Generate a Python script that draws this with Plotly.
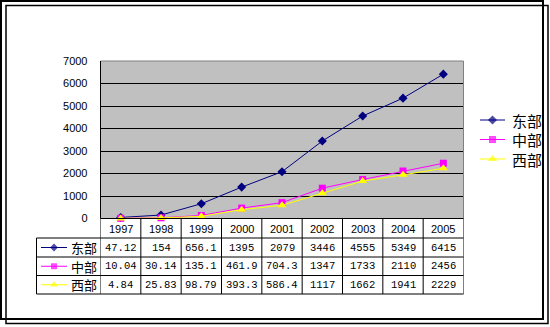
import plotly.graph_objects as go

# ---- data ----
years = ["1997", "1998", "1999", "2000", "2001", "2002", "2003", "2004", "2005"]
east = [47.12, 154, 656.1, 1395, 2079, 3446, 4555, 5349, 6415]
central = [10.04, 30.14, 135.1, 461.9, 704.3, 1347, 1733, 2110, 2456]
west = [4.84, 25.83, 98.79, 393.3, 586.4, 1117, 1662, 1941, 2229]
series_names = ["东部", "中部", "西部"]
y_ticks = [0, 1000, 2000, 3000, 4000, 5000, 6000, 7000]

series_values = [east, central, west]
colors = ["#000080", "#FF00FF", "#FFFF00"]
symbols = ["diamond", "square", "triangle-up"]
marker_sizes = [7, 7, 8]

# ---- layout geometry (pixels) ----
W, H = 550, 327
PL, PR, PT, PB = 100.5, 463.5, 61, 218.5          # plot area
ROWS = [218.5, 238, 257, 275.5, 294]              # data table row edges
TL = 36.5                                          # table left edge


def px(x):
    return x / W


def py(y):
    return 1 - y / H


SANS = "Liberation Sans, Arial, sans-serif"
MONO = "Liberation Mono, DejaVu Sans Mono, monospace"
CJK = "Noto Sans CJK SC, sans-serif"

fig = go.Figure()
xs = list(range(len(years)))

# ---- series ----
for name, vals, c, s, ms in zip(series_names, series_values, colors, symbols, marker_sizes):
    fig.add_trace(go.Scatter(
        x=xs, y=vals, name=name, mode="lines+markers",
        line=dict(color=c, width=1),
        marker=dict(symbol=s, size=ms, color=c, line=dict(width=0)),
        showlegend=False, xaxis="x", yaxis="y", cliponaxis=False,
    ))

# ---- legend keys and table keys on a pixel-space overlay ----
legend_y = [120, 139.5, 159]
table_y = [(ROWS[i + 1] + ROWS[i + 2]) / 2 for i in range(3)]
for i, (c, s, ms) in enumerate(zip(colors, symbols, marker_sizes)):
    for (x0, x1, yc, big) in [(480, 505, legend_y[i], True), (41, 67, table_y[i], False)]:
        fig.add_trace(go.Scatter(
            x=[x0, (x0 + x1) / 2, x1], y=[yc, yc, yc], mode="lines+markers",
            line=dict(color=c, width=1),
            marker=dict(symbol=s, size=[0, ms if big else ms - 1, 0], color=c, line=dict(width=0)),
            showlegend=False, hoverinfo="skip", xaxis="x2", yaxis="y2",
        ))

shapes = []
# plot background
shapes.append(dict(type="rect", xref="x domain", yref="y domain", x0=0, x1=1, y0=0, y1=1,
                   fillcolor="#C0C0C0", line=dict(width=0), layer="below"))
# plot border: grey top/right, black axes left/bottom
shapes.append(dict(type="line", xref="paper", yref="paper", x0=px(PL), x1=px(PR), y0=py(PT), y1=py(PT),
                   line=dict(color="#808080", width=1)))
shapes.append(dict(type="line", xref="paper", yref="paper", x0=px(PR), x1=px(PR), y0=py(PT), y1=py(PB),
                   line=dict(color="#808080", width=1)))
shapes.append(dict(type="line", xref="paper", yref="paper", x0=px(PL), x1=px(PL), y0=py(PT), y1=py(PB),
                   line=dict(color="black", width=1)))
shapes.append(dict(type="line", xref="paper", yref="paper", x0=px(PL), x1=px(PR), y0=py(PB), y1=py(PB),
                   line=dict(color="black", width=1)))

# data table grid
for r in ROWS[1:]:
    shapes.append(dict(type="line", xref="paper", yref="paper", x0=px(TL), x1=px(PR), y0=py(r), y1=py(r),
                       line=dict(color="black", width=1)))
shapes.append(dict(type="line", xref="paper", yref="paper", x0=px(TL), x1=px(TL), y0=py(ROWS[1]), y1=py(ROWS[4]),
                   line=dict(color="black", width=1)))
for i in range(len(years) + 1):
    shapes.append(dict(type="line", xref="x", yref="paper", x0=i - 0.5, x1=i - 0.5,
                       y0=py(ROWS[0]), y1=py(ROWS[4]), line=dict(color="black", width=1)))

# outer frames
shapes.append(dict(type="rect", xref="paper", yref="paper", x0=px(1), x1=px(543), y0=py(1), y1=py(319),
                   line=dict(color="black", width=2)))
shapes.append(dict(type="rect", xref="paper", yref="paper", x0=px(6), x1=px(548), y0=py(5.5), y1=py(323.5),
                   line=dict(color="black", width=1.5)))

annotations = []


def label(text, x, y, xref, font, xanchor="center"):
    annotations.append(dict(text=text, xref=xref, yref="paper", x=x, y=y,
                            xanchor=xanchor, yanchor="middle", showarrow=False, font=font))


# header row: years
for i, yr in enumerate(years):
    label(yr, i, py((ROWS[0] + ROWS[1]) / 2 + 0.5), "x", dict(family=SANS, size=11, color="black"))
# table values
for r, vals in enumerate(series_values):
    for i, v in enumerate(vals):
        label(f"{v:g}", i, py(table_y[r]), "x", dict(family=MONO, size=10.5, color="black"))
# table row labels
for r, name in enumerate(series_names):
    label(name, px(69), py(table_y[r]), "paper", dict(family=CJK, size=13, color="black"), "left")
# legend labels
for r, name in enumerate(series_names):
    label(name, px(510), py(legend_y[r]), "paper", dict(family=CJK, size=15, color="black"), "left")

fig.update_layout(
    width=W, height=H, autosize=False,
    margin=dict(l=0, r=0, t=0, b=0, pad=0),
    paper_bgcolor="white", plot_bgcolor="rgba(0,0,0,0)",
    showlegend=False,
    xaxis=dict(domain=[px(PL), px(PR)], range=[-0.5, len(years) - 0.5], showticklabels=False,
               showgrid=False, zeroline=False, showline=False, ticks="", fixedrange=True, anchor="y",
               automargin=False),
    yaxis=dict(domain=[py(PB), py(PT)], range=[0, 7000], tickvals=y_ticks,
               ticktext=[str(t) for t in y_ticks],
               showgrid=True, gridcolor="black", gridwidth=1, zeroline=False, showline=False,
               ticks="", ticklabelstandoff=12, tickfont=dict(family=SANS, size=11, color="black"),
               fixedrange=True, anchor="x", automargin=False),
    xaxis2=dict(domain=[0, 1], range=[0, W], visible=False, anchor="y2", fixedrange=True, automargin=False),
    yaxis2=dict(domain=[0, 1], range=[H, 0], visible=False, anchor="x2", fixedrange=True, automargin=False),
    shapes=shapes, annotations=annotations,
)

fig.write_html("out.html")
